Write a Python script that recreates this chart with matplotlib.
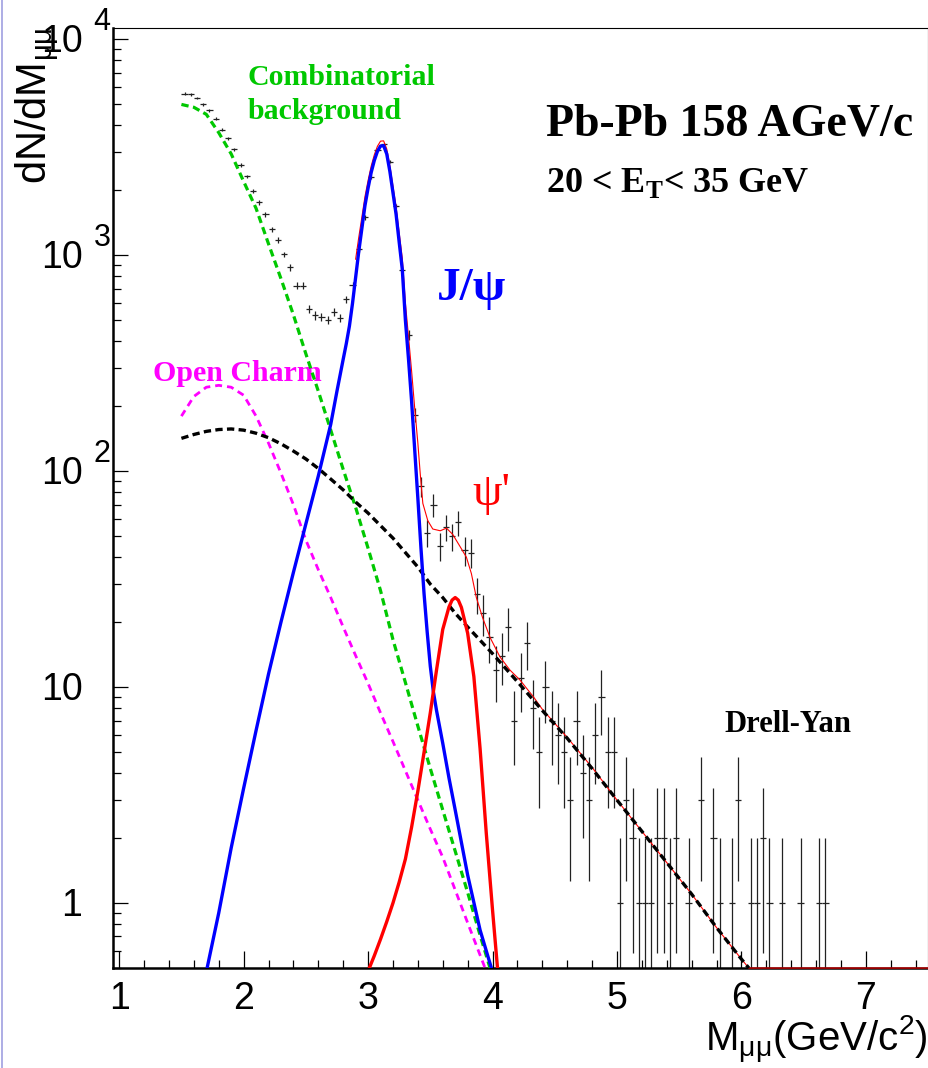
import numpy as np
import matplotlib
matplotlib.use("Agg")
import matplotlib.pyplot as plt
from matplotlib.ticker import FixedLocator, LogLocator, NullFormatter
from matplotlib.lines import Line2D

plt.rcParams['mathtext.fontset'] = 'custom'
plt.rcParams['mathtext.rm'] = 'Liberation Sans'
plt.rcParams['mathtext.it'] = 'Liberation Sans:italic'
plt.rcParams['mathtext.bf'] = 'Liberation Serif:bold'

# dimuon mass spectrum, bins of 0.05 GeV (only non-empty bins)
mass = [1.525, 1.575, 1.625, 1.675, 1.725, 1.775, 1.825, 1.875, 1.925, 1.975,
        2.025, 2.075, 2.125, 2.175, 2.225, 2.275, 2.325, 2.375, 2.425, 2.475,
        2.525, 2.575, 2.625, 2.675, 2.725, 2.775, 2.825, 2.875, 2.925, 2.975,
        3.025, 3.075, 3.125, 3.175, 3.225, 3.275, 3.325, 3.375, 3.425, 3.475,
        3.525, 3.575, 3.625, 3.675, 3.725, 3.775, 3.825, 3.875, 3.925, 3.975,
        4.025, 4.075, 4.125, 4.175, 4.225, 4.275, 4.325, 4.375, 4.425, 4.475,
        4.525, 4.575, 4.625, 4.675, 4.725, 4.775, 4.825, 4.875, 4.925, 4.975,
        5.025, 5.075, 5.125, 5.175, 5.225, 5.275, 5.325, 5.375, 5.425, 5.475,
        5.575, 5.675, 5.775, 5.825, 5.925, 5.975, 6.075, 6.125, 6.175, 6.225,
        6.325, 6.475, 6.625, 6.675]
counts = [5610, 5560, 5350, 5000, 4690, 4300, 3820, 3490, 3100, 2620,
          2320, 1990, 1760, 1550, 1320, 1180, 1010, 880, 724, 724,
          562, 527, 520, 503, 546, 513, 625, 726, 1066, 1500,
          2300, 3060, 3270, 2720, 1690, 852, 428, 183, 85, 52,
          70, 45, 55, 50, 58, 43, 42, 27, 22, 17,
          12, 14, 19, 7, 11, 16, 8, 5, 10, 7,
          6, 5, 3, 7, 4, 3, 6, 9, 5, 5,
          1, 3, 2, 1, 1, 1, 2, 2, 1, 2,
          1, 3, 2, 1, 1, 3, 1, 1, 2, 1,
          1, 1, 1, 1]
bin_half = 0.025

# fit components
comb_x = [1.5, 1.6, 1.7, 1.8, 1.9, 2.0, 2.1, 2.2, 2.3, 2.4, 2.5, 2.6, 2.7, 2.8,
          2.9, 3.0, 3.1, 3.2, 3.3, 3.4, 3.5, 3.6, 3.7, 3.8, 3.9, 3.98]
comb_y = [5000, 4850, 4500, 3700, 2950, 2200, 1650, 1130, 780, 530, 350, 235, 155, 102,
          68, 44, 28, 16.6, 10.5, 6.6, 4.2, 2.7, 1.74, 1.12, 0.71, 0.5]

charm_x = [1.5, 1.6, 1.7, 1.8, 1.9, 2.0, 2.1, 2.2, 2.3, 2.4, 2.5, 2.6, 2.7, 2.8,
           2.9, 3.0, 3.1, 3.2, 3.3, 3.4, 3.5, 3.6, 3.7, 3.8, 3.94]
charm_y = [180, 222, 245, 250, 245, 225, 180, 135, 98, 70, 48, 35, 26, 19,
           14, 10.4, 7.6, 5.6, 4.1, 3.0, 2.2, 1.63, 1.15, 0.81, 0.5]

dy_x = [1.5, 1.6, 1.7, 1.8, 1.9, 2.0, 2.1, 2.2, 2.3, 2.4, 2.5, 2.6, 2.7, 2.8, 2.9,
        3.0, 3.1, 3.2, 3.3, 3.4, 3.5, 3.6, 3.7, 3.8, 3.9, 4.0, 4.2, 4.4, 4.6, 4.8,
        5.0, 5.2, 5.4, 5.6, 5.8, 6.0, 6.06]
dy_y = [142, 148, 153, 156, 157, 155, 150, 143, 134, 124, 114, 103, 92, 82, 72,
        64, 56, 49, 42, 36, 30, 26, 22, 19, 16.5, 14.3, 10.6, 7.8, 5.8, 4.2,
        3.0, 2.15, 1.54, 1.1, 0.77, 0.55, 0.5]

jpsi_x = [1.70, 1.80, 1.90, 2.00, 2.10, 2.20, 2.30, 2.40, 2.50, 2.60, 2.70, 2.75,
          2.80, 2.825, 2.85, 2.875, 2.90, 2.925, 2.95, 2.975, 3.00, 3.025, 3.05,
          3.075, 3.10, 3.125, 3.15, 3.175, 3.20, 3.225, 3.25, 3.275, 3.30, 3.325,
          3.35, 3.375, 3.40, 3.425, 3.45, 3.475, 3.50, 3.525, 3.55, 3.60, 3.65,
          3.70, 3.80, 3.90, 4.00]
jpsi_y = [0.48, 0.9, 1.8, 3.4, 6.3, 11.5, 20, 34, 57, 95, 165, 235,
          330, 390, 470, 600, 790, 1040, 1330, 1700, 2050, 2420, 2750,
          3030, 3210, 3220, 2950, 2450, 1950, 1550, 1150, 860, 500, 330,
          210, 125, 75, 44, 27, 18, 12.5, 9.5, 7.8, 5.5, 3.8,
          2.7, 1.35, 0.75, 0.48]

psip_x = [3.01, 3.05, 3.1, 3.15, 3.2, 3.25, 3.3, 3.35, 3.4, 3.45, 3.5, 3.55, 3.6,
          3.65, 3.675, 3.7, 3.725, 3.75, 3.8, 3.85, 3.9, 3.95, 4.0, 4.04]
psip_y = [0.5, 0.57, 0.68, 0.82, 1.0, 1.25, 1.6, 2.25, 3.3, 5.0, 7.6, 12, 18.5,
          23.5, 25.3, 26, 25.3, 23.4, 17.8, 11.2, 5.2, 2.1, 0.93, 0.5]

total_x = [2.90, 2.925, 2.95, 2.975, 3.00, 3.025, 3.05, 3.075, 3.10, 3.125, 3.15,
           3.175, 3.20, 3.225, 3.25, 3.275, 3.30, 3.325, 3.35, 3.375, 3.40, 3.42,
           3.44, 3.48, 3.52, 3.58, 3.63, 3.68, 3.74, 3.79, 3.83, 3.87, 3.92, 3.98,
           4.06, 4.14, 4.22, 4.33, 4.4, 4.6, 4.8, 5.0, 5.2, 5.4, 5.6, 5.8, 6.0,
           6.06, 6.5, 7.5]
total_y = [960, 1210, 1500, 1870, 2220, 2590, 2920, 3200, 3380, 3390, 3110,
           2600, 2090, 1680, 1270, 970, 600, 420, 290, 195, 135, 96,
           71, 59, 54, 53, 54.5, 51, 44.7, 40, 33.6, 26, 21, 17,
           13.8, 12, 10.8, 9, 7.9, 5.85, 4.25, 3.0, 2.15, 1.54, 1.1, 0.77, 0.55,
           0.5, 0.23, 0.04]

y_min, y_max = 0.5, 1.13e4

fig = plt.figure(figsize=(9.29, 10.68), dpi=100)
ax = fig.add_axes([0.1216, 0.0936, 0.8774, 0.8802])
ax.set_yscale('log', nonpositive='clip')

cnt = np.array(counts, dtype=float)
ax.errorbar(mass, cnt, xerr=bin_half, yerr=np.sqrt(cnt), fmt='none',
            ecolor='#222222', elinewidth=0.9, capsize=0, zorder=2)

ax.plot(total_x, np.maximum(total_y, y_min), color='red', lw=0.8, zorder=3, clip_on=False)
ax.plot(comb_x, comb_y, color='#00c800', lw=2.3, ls=(0, (2.3, 1.4)), zorder=4)
ax.plot(charm_x, charm_y, color='#ff00ff', lw=2.0, ls=(0, (2.5, 1.8)), zorder=4)
ax.plot(dy_x, dy_y, color='black', lw=2.4, ls=(0, (2.2, 1.3)), zorder=4)
ax.plot(jpsi_x, jpsi_y, color='#0000ff', lw=2.4, zorder=5)
ax.plot(psip_x, psip_y, color='red', lw=2.4, zorder=5)

ax.set_xlim(0.95, 7.5)
ax.set_ylim(y_min, y_max)

# ticks in ROOT style
ax.xaxis.set_major_locator(FixedLocator([1, 2, 3, 4, 5, 6, 7]))
ax.xaxis.set_minor_locator(FixedLocator(np.arange(1.0, 7.5, 0.2)))
ax.yaxis.set_major_locator(LogLocator(base=10, numticks=10))
ax.yaxis.set_minor_locator(LogLocator(base=10, subs=np.arange(2, 10), numticks=20))
ax.yaxis.set_major_formatter(NullFormatter())
ax.yaxis.set_minor_formatter(NullFormatter())
ax.tick_params(axis='x', which='major', direction='in', length=12, width=0.9,
               pad=9, labelsize=27, top=False)
ax.tick_params(axis='x', which='minor', direction='in', length=5.5, width=0.9, top=False)
ax.tick_params(axis='y', which='major', direction='in', length=11, width=0.9, right=False)
ax.tick_params(axis='y', which='minor', direction='in', length=5.5, width=0.9, right=False)
for lab in ax.get_xticklabels():
    lab.set_family('Liberation Sans')

for s in ['left', 'bottom']:
    ax.spines[s].set_linewidth(1.8)
for s in ['top', 'right']:
    ax.spines[s].set_linewidth(0.8)

# y tick labels: "10" with a raised exponent
dec_vals = [1, 10, 100, 1000, 10000]
dec_exp = ['', '', '2', '3', '4']
for v, e in zip(dec_vals, dec_exp):
    base = '1' if v == 1 else '10'
    ax.annotate(base, xy=(0, v), xycoords=('axes fraction', 'data'),
                xytext=(-22, -2), textcoords='offset points', ha='right', va='center',
                fontsize=27, family='Liberation Sans')
    if e:
        ax.annotate(e, xy=(0, v), xycoords=('axes fraction', 'data'),
                    xytext=(-14, 12.5), textcoords='offset points', ha='left', va='center',
                    fontsize=22, family='Liberation Sans')

ax.set_ylabel(r'dN/dM$_{\mathrm{\mu\mu}}$', fontsize=30, family='Liberation Sans', loc='top')
ax.yaxis.set_label_coords(-0.062, 1.0)
ax.set_xlabel(r'M$_{\mathrm{\mu\mu}}$(GeV/c$^{\mathrm{2}}$)', fontsize=29,
              family='Liberation Sans', loc='right')
ax.xaxis.set_label_coords(1.0, -0.049)

serif = ['Liberation Serif', 'DejaVu Serif']
ax.text(2.035, 6120, 'Combinatorial', color='#00c800', fontsize=21.5,
        family=serif, weight='bold', va='baseline')
ax.text(2.035, 4260, 'background', color='#00c800', fontsize=21.5,
        family=serif, weight='bold', va='baseline')
ax.text(4.43, 3590, 'Pb-Pb 158 AGeV/c', color='black', fontsize=33,
        family=serif, weight='bold', va='baseline')
ax.text(4.43, 1975, r'20 < E$_{\mathbf{T}}$< 35 GeV', color='black', fontsize=26,
        family=serif, weight='bold', va='baseline')
ax.text(3.554, 623, 'J/ψ', color='#0000ff', fontsize=34,
        family=serif, weight='bold', va='baseline')
ax.text(3.835, 70, "ψ'", color='red', fontsize=34,
        family=serif, va='baseline')
ax.text(1.273, 263, 'Open Charm', color='#ff00ff', fontsize=21.5,
        family=serif, weight='bold', va='baseline')
ax.text(5.86, 6.2, 'Drell-Yan', color='black', fontsize=22,
        family=serif, weight='bold', va='baseline')

# faint frame line on the far left of the canvas
fig.add_artist(Line2D([0.002, 0.002], [0, 1], color='#a0a0e0', lw=1.2))

fig.savefig('out.png', dpi=100)
